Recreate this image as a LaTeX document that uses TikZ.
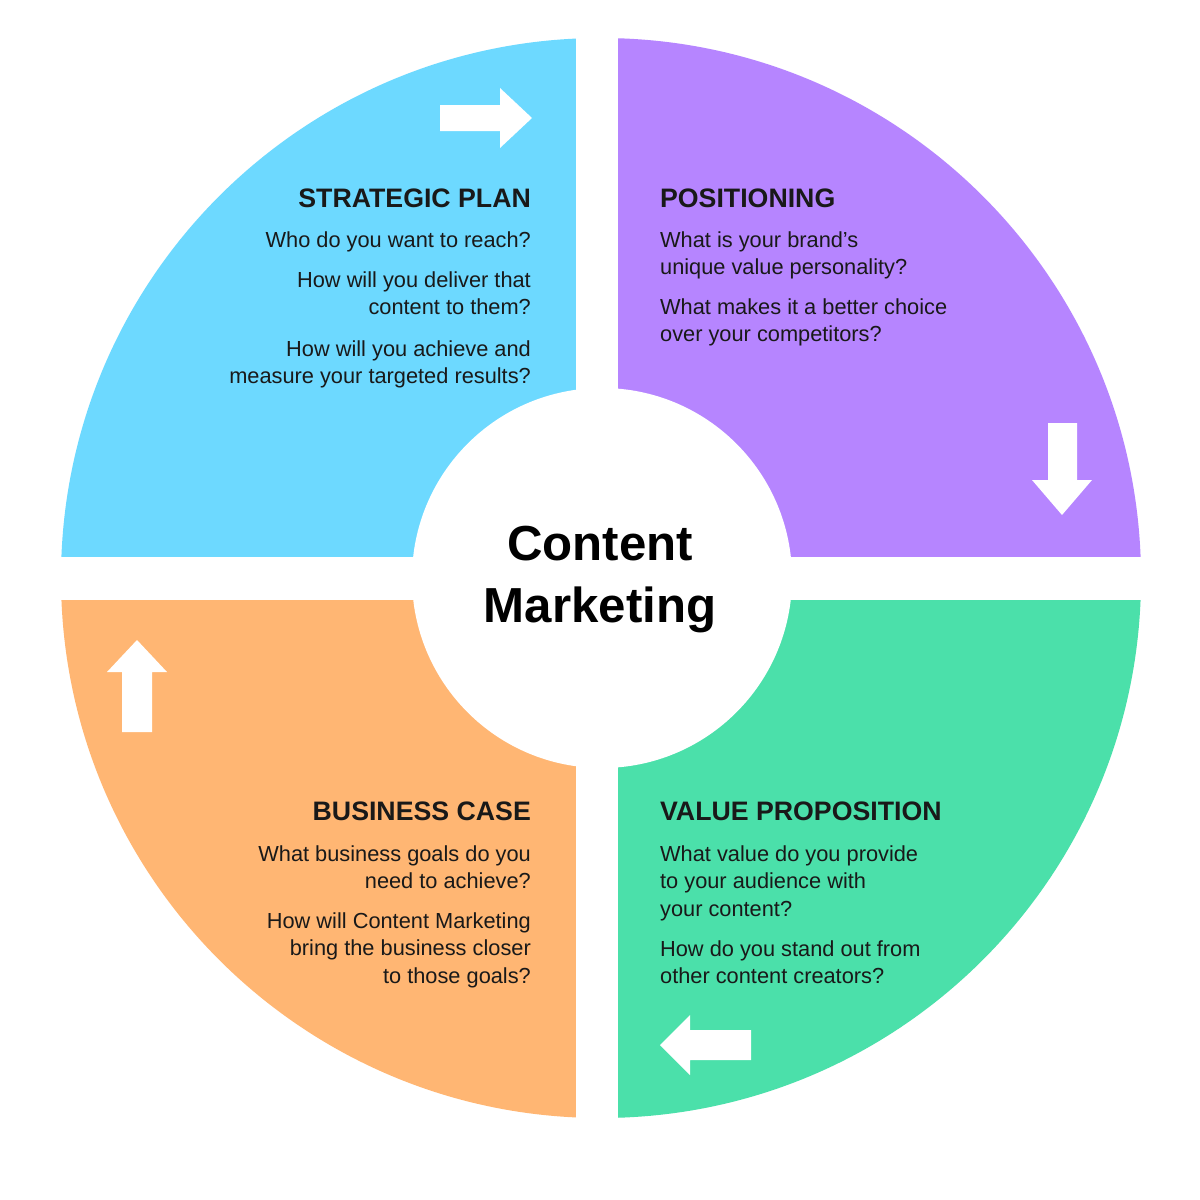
\documentclass[tikz,border=0pt]{standalone}
\usepackage{fontspec}
\setmainfont{Liberation Sans}
\definecolor{cy}{HTML}{6DD9FF}
\definecolor{pu}{HTML}{B685FF}
\definecolor{gr}{HTML}{4BE0AA}
\definecolor{or}{HTML}{FFB673}
\begin{document}
\begin{tikzpicture}[x=0.05cm,y=-0.05cm,
 body/.style={inner sep=0,font=\fontsize{31}{38}\selectfont,text=black!90},
 ttl/.style={inner sep=0,font=\fontsize{38}{44}\selectfont\bfseries,text=black!90},
 arr/.style={fill=white,draw=none}]
\useasboundingbox (0,0) rectangle (1200,1200);
\fill[white] (0,0) rectangle (1200,1200);
\begin{scope}\clip (0,0) rectangle (597,578); \fill[cy] (601,578) circle (540); \end{scope}
\begin{scope}\clip (597,0) rectangle (1200,578); \fill[pu] (601,578) circle (540); \end{scope}
\begin{scope}\clip (0,578) rectangle (597,1200); \fill[or] (601,578) circle (540); \end{scope}
\begin{scope}\clip (597,578) rectangle (1200,1200); \fill[gr] (601,578) circle (540); \end{scope}
\fill[white] (576,0) rectangle (618,1200);
\fill[white] (0,557) rectangle (1200,600);
\fill[white] (602,578) circle (190);
% arrows
\fill[arr] (440,105)--(500,105)--(500,88)--(532,118)--(500,148)--(500,131)--(440,131)--cycle;
\fill[arr] (1048,423)--(1077,423)--(1077,480)--(1092,480)--(1062,515)--(1032,480)--(1048,480)--cycle;
\fill[arr] (751,1030)--(690,1030)--(690,1015)--(660,1045)--(690,1075)--(690,1060)--(751,1060)--cycle;
\fill[arr] (122,732)--(152,732)--(152,672)--(167,672)--(137,640)--(107,672)--(122,672)--cycle;
% center
\node[inner sep=0,font=\fontsize{70}{80}\selectfont\bfseries,anchor=base] (c1) at (600,560) {Content};
\node[inner sep=0,font=\fontsize{70}{80}\selectfont\bfseries,anchor=base] (c2) at (600,622) {Marketing};
% titles
\node[ttl,anchor=base east] (t1) at (531,207) {STRATEGIC PLAN};
\node[ttl,anchor=base west] (t2) at (660,207) {POSITIONING};
\node[ttl,anchor=base east] (t3) at (531,820) {BUSINESS CASE};
\node[ttl,anchor=base west] (t4) at (660,820) {VALUE PROPOSITION};
\foreach \y/\t [count=\i] in {247/{Who do you want to reach?},287/{How will you deliver that},314/{content to them?},356/{How will you achieve and},383/{measure your targeted results?},861/{What business goals do you},888/{need to achieve?},928/{How will Content Marketing},955/{bring the business closer},983/{to those goals?}}
  \node[body,anchor=base east] (l\i) at (531,\y) {\t};
\foreach \y/\t [count=\i] in {247/{What is your brand’s},274/{unique value personality?},314/{What makes it a better choice},341/{over your competitors?},861/{What value do you provide},888/{to your audience with},916/{your content?},956/{How do you stand out from},983/{other content creators?}}
  \node[body,anchor=base west] (r\i) at (660,\y) {\t};
\end{tikzpicture}
\end{document}
